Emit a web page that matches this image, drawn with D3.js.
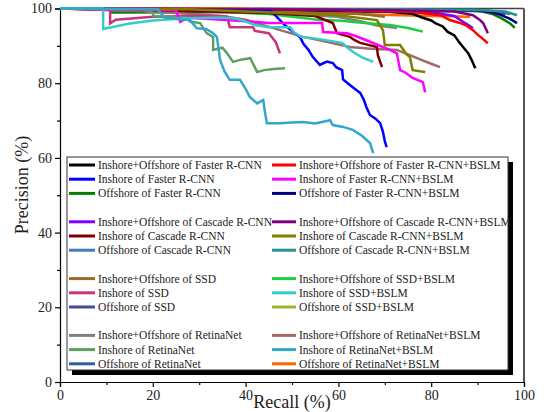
<!DOCTYPE html>
<html>
<head>
<meta charset="utf-8">
<script src="https://cdn.jsdelivr.net/npm/d3@7"></script>
<style>
  body { margin: 0; background: #fff; }
  svg text { font-family: "Liberation Serif", Tinos, "DejaVu Serif", serif; fill: #222; }
</style>
</head>
<body>
<div id="chart"></div>
<script>
// precision-recall curves, [recall, precision] pairs
var ioFaster = [[0,100],[12,100],[12.2,99.6],[40,99.5],[70,99.2],[76,98.6],[78,97.6],[80,96.8],[81,96],[82.5,95.2],[83.5,93.8],[85,92.8],[86,91],[87,89.5],[88,88],[88.8,86],[89.5,84]];
var inFaster = [[0,100],[30,99.6],[45.5,99.3],[46.5,98],[47.4,96.9],[48.5,95.5],[49.5,94.5],[50.5,93.5],[51.7,92.4],[52.5,90.5],[53.5,89],[54.5,87],[56,84.9],[57.5,85.8],[58.8,85.4],[59.5,84.3],[60.8,83.5],[61,81],[62,80],[63.5,78.5],[64.7,77.4],[65.5,75.5],[66,73.7],[66.8,71.5],[68,70.5],[69,69.3],[69.6,67],[70,64.5],[70.4,62.9]];
var offFaster = [[0,100],[10.5,100],[11,98.9],[30,99],[60,99.2],[88,99.4],[91,99.2],[93,98.6],[95,97.5],[97,96],[98,94.8]];
var ioCascade = [[0,100],[60,99.6],[80,99],[85,98],[86.9,96.4],[88,95.6],[89,94.7]];
var inCascade = [[0,100],[20,99.5],[44.6,98.8],[55,98],[58.8,96.1],[59.7,93.4],[62.5,92.4],[63.5,91.5],[64.7,90.8],[68.3,89.7],[68.5,87.5],[69.4,84.3]];
var offCascade = [[0,100],[50,99.8],[90,99.5],[95,99],[97,98.5]];
var ioSSD = [[0,100],[20,99.7],[50,99],[65,98.5],[70,97.8]];
var inSSD = [[0,100],[10.8,99.6],[10.8,96],[12,97],[20,97.8],[30,98],[36,97.8],[36.6,95],[41.6,95],[42,94],[45,93.4],[46.5,91],[47.4,88]];
var offSSD = [[0,100],[60,99.7],[90,99.4],[96,98.5]];
var ioRetina = [[0,100],[30,99.4],[50,98.5],[59.7,97.8],[65,96.5],[68,95.5],[72.6,94.8]];
var inRetina = [[0,100],[18,99.6],[20.1,98.8],[20.1,98],[27.4,97.5],[28,96.5],[30.2,96.1],[31.6,93.4],[33,92.4],[33,88.9],[35,89.5],[36,88],[37.3,85.7],[39,86.3],[41,86.7],[42.5,83],[44,83.5],[46,83.8],[48.5,84]];
var offRetina = [[0,100],[60,99.8],[90,99.6],[96,99]];

var ioFasterB = [[0,100],[50,99.8],[75,99.2],[82,98.2],[84,96.9],[86,96.2],[87.5,95.5],[89,94.2],[90,93],[91,92],[92.2,90.7]];
var inFasterB = [[0,100],[25,99.5],[25.9,96.4],[27.4,97.5],[35,97],[40,96.6],[45,96.1],[56.5,96.1],[56.7,93.7],[61.9,93.4],[64,92.5],[66,91.5],[69.6,89.7],[71,89],[72.6,88],[73.3,83.5],[74.5,82.8],[76,81.4],[78.2,80.3],[78.7,77.6]];
var offFasterB = [[0,100],[60,99.7],[90,99.5],[93,99],[95,98.3],[97,97.2],[98.5,96.1]];
var ioCascadeB = [[0,100],[70,99.6],[85,99.2],[89,98.2],[90.5,96.9],[91.2,96.1],[92,94],[92.2,93.4]];
var inCascadeB = [[0,100],[28,99.8],[40,99.2],[60,98.2],[68.3,96.9],[69.6,94.2],[70,90.2],[73.3,90.2],[74.5,88],[75.4,87],[76,83.5],[78.7,83]];
var offCascadeB = [[0,100],[70,99.8],[90,99.6],[96,99.2],[98.5,98.2]];
var ioSSDB = [[0,100],[27,99.6],[45,98.5],[56,96.9],[60,96.8],[65,96.2],[71.1,95.6],[75,94.8],[78.2,93.8]];
var inSSDB = [[0,100],[9.3,100],[9.3,94.5],[15,96],[20,96.8],[27,97.4],[35,97.6],[38,97.3],[40,96.5],[42,95.6],[45,95],[49.6,95],[50.5,93.5],[52,92.4],[56,91.8],[60.8,90.8],[62,89.5],[63.1,88.4],[65,87],[67.5,85.7]];
var offSSDB = [[0,100],[30,99.6],[60,99],[65,98.5],[70,98]];
var ioRetinaB = [[0,100],[20,99.2],[35,98],[40,97],[45.3,95],[48,94],[52.4,92.4],[56,91.5],[62.5,89.7],[67,89.2],[72.6,88.9],[75.4,87.5],[78,86.2],[80,85.2],[81.9,84.3]];
var inRetinaB = [[0,100],[21,99.8],[22.6,97.5],[27,97],[28,96.9],[29.5,94.7],[31.5,94.5],[33,93.4],[33.8,92.4],[34.2,89],[34.5,86.2],[35.5,83],[36.6,80.9],[38.8,80.9],[40,78.5],[40.9,76.3],[42.5,74.6],[43.8,75.5],[44.2,72],[44.6,69.3],[47.4,69.3],[50,69.5],[52.4,69.6],[55,69.2],[58.2,70.1],[58.8,68.8],[61,68.3],[63.1,67.5],[65,66],[66.8,64],[67.5,61.3]];
var offRetinaB = [[0,100],[40,100],[52.4,99.1],[69,98.3],[80,98],[88.4,97.8]];

// legend order: left column, then right column
var leftNames = ["Inshore+Offshore of Faster R-CNN", "Inshore of Faster R-CNN", "Offshore of Faster R-CNN",
  "Inshore+Offshore of Cascade R-CNN", "Inshore of Cascade R-CNN", "Offshore of Cascade R-CNN",
  "Inshore+Offshore of SSD", "Inshore of SSD", "Offshore of SSD",
  "Inshore+Offshore of RetinaNet", "Inshore of RetinaNet", "Offshore of RetinaNet"];
var rightNames = leftNames.map(function(n) { return n + "+BSLM"; });
var leftData = [ioFaster, inFaster, offFaster, ioCascade, inCascade, offCascade, ioSSD, inSSD, offSSD, ioRetina, inRetina, offRetina];
var rightData = [ioFasterB, inFasterB, offFasterB, ioCascadeB, inCascadeB, offCascadeB, ioSSDB, inSSDB, offSSDB, ioRetinaB, inRetinaB, offRetinaB];
var leftColors = ["#000000", "#0000ff", "#008000", "#8000ff", "#800000", "#3f7fbf", "#a0662a", "#c8327f", "#4848a0", "#808080", "#5f9f5f", "#2f5f9f"];
var rightColors = ["#ff0000", "#ff00ff", "#000080", "#800080", "#808000", "#2a9090", "#1ad040", "#33cccc", "#99b333", "#a06a6a", "#33a6cc", "#ff6600"];

var xTicks = [0, 20, 40, 60, 80, 100];
var yTicks = [0, 20, 40, 60, 80, 100];

var svgWidth = 549, svgHeight = 412;
var margin = {top: 8.5, right: 25, bottom: 30, left: 60};
var width = svgWidth - margin.left - margin.right;
var height = svgHeight - margin.top - margin.bottom;
var serif = '"Liberation Serif", Tinos, "DejaVu Serif", serif';

var svg = d3.select("#chart").append("svg")
  .attr("width", svgWidth)
  .attr("height", svgHeight)
  .attr("font-family", serif);

var g = svg.append("g")
  .attr("transform", `translate(${margin.left}, ${margin.top})`);

var x = d3.scaleLinear().domain([0, 100]).range([0, width]);
var y = d3.scaleLinear().domain([0, 100]).range([height, 0]);

// frame (top and right)
g.append("line").attr("x1", 0).attr("x2", width).attr("y1", 0).attr("y2", 0)
  .attr("stroke", "#444").attr("stroke-width", 1.5);
g.append("line").attr("x1", width).attr("x2", width).attr("y1", 0).attr("y2", height)
  .attr("stroke", "#555").attr("stroke-width", 2);

// axes
var xAxis = g.append("g").attr("transform", `translate(0, ${height})`)
  .call(d3.axisBottom(x).tickValues(d3.range(0, 101, 10)).tickSize(5)
    .tickFormat(function(d) { return xTicks.includes(d) ? d : ""; }));
var yAxis = g.append("g")
  .call(d3.axisLeft(y).tickValues(d3.range(0, 101, 10)).tickSize(5)
    .tickFormat(function(d) { return yTicks.includes(d) ? d : ""; }));

[xAxis, yAxis].forEach(function(a) {
  a.attr("font-family", serif).attr("font-size", 14);
  a.select(".domain").attr("stroke", "#000").attr("stroke-width", 1.2);
  a.selectAll(".tick line").attr("stroke", "#000").attr("stroke-width", 1.2);
  a.selectAll(".tick text").attr("fill", "#333");
});
xAxis.selectAll(".tick").filter(function(d) { return !xTicks.includes(d); }).select("line").attr("y2", 3);
yAxis.selectAll(".tick").filter(function(d) { return !yTicks.includes(d); }).select("line").attr("x2", -3);
xAxis.selectAll(".tick text").attr("y", 8);

// curves
var line = d3.line()
  .x(function(d) { return x(d[0]); })
  .y(function(d) { return y(d[1]); });

var allData = leftData.concat(rightData);
var allColors = leftColors.concat(rightColors);
// draw the near-top series first so the dropping curves stay visible
var order = [2, 5, 8, 11, 14, 17, 20, 23, 0, 3, 6, 9, 12, 15, 18, 21, 1, 4, 7, 10, 13, 16, 19, 22];
order.forEach(function(i) {
  g.append("path")
    .datum(allData[i])
    .attr("d", line)
    .attr("fill", "none")
    .attr("stroke", allColors[i])
    .attr("stroke-width", 2.5)
    .attr("stroke-linejoin", "miter");
});

// axis titles
svg.append("text")
  .attr("x", margin.left + width / 2)
  .attr("y", 408)
  .attr("text-anchor", "middle")
  .style("font-size", "18px")
  .text("Recall (%)");

svg.append("text")
  .attr("transform", "rotate(-90)")
  .attr("x", -185)
  .attr("y", 28)
  .attr("text-anchor", "middle")
  .style("font-size", "18px")
  .text("Precision (%)");

// legend with drop shadow
var lg = {x: 67, y: 157, w: 441, h: 213, shadow: 5};
svg.append("rect")
  .attr("x", lg.x + lg.shadow).attr("y", lg.y + lg.shadow)
  .attr("width", lg.w).attr("height", lg.h)
  .attr("fill", "#000");
svg.append("rect")
  .attr("x", lg.x).attr("y", lg.y)
  .attr("width", lg.w).attr("height", lg.h)
  .attr("fill", "#fff").attr("stroke", "#333").attr("stroke-width", 1);

function legendRow(i) {
  var slot = i + Math.floor(i / 3);
  return 165 + slot * 14.2;
}

[[leftNames, leftColors, 69, 95, 98], [rightNames, rightColors, 272, 296, 299]].forEach(function(col) {
  col[0].forEach(function(name, i) {
    var ry = legendRow(i);
    svg.append("line")
      .attr("x1", col[2]).attr("x2", col[3])
      .attr("y1", ry).attr("y2", ry)
      .attr("stroke", col[1][i]).attr("stroke-width", 3);
    svg.append("text")
      .attr("x", col[4]).attr("y", ry + 4)
      .style("font-size", "11.5px")
      .text(name);
  });
});
</script>
</body>
</html>
